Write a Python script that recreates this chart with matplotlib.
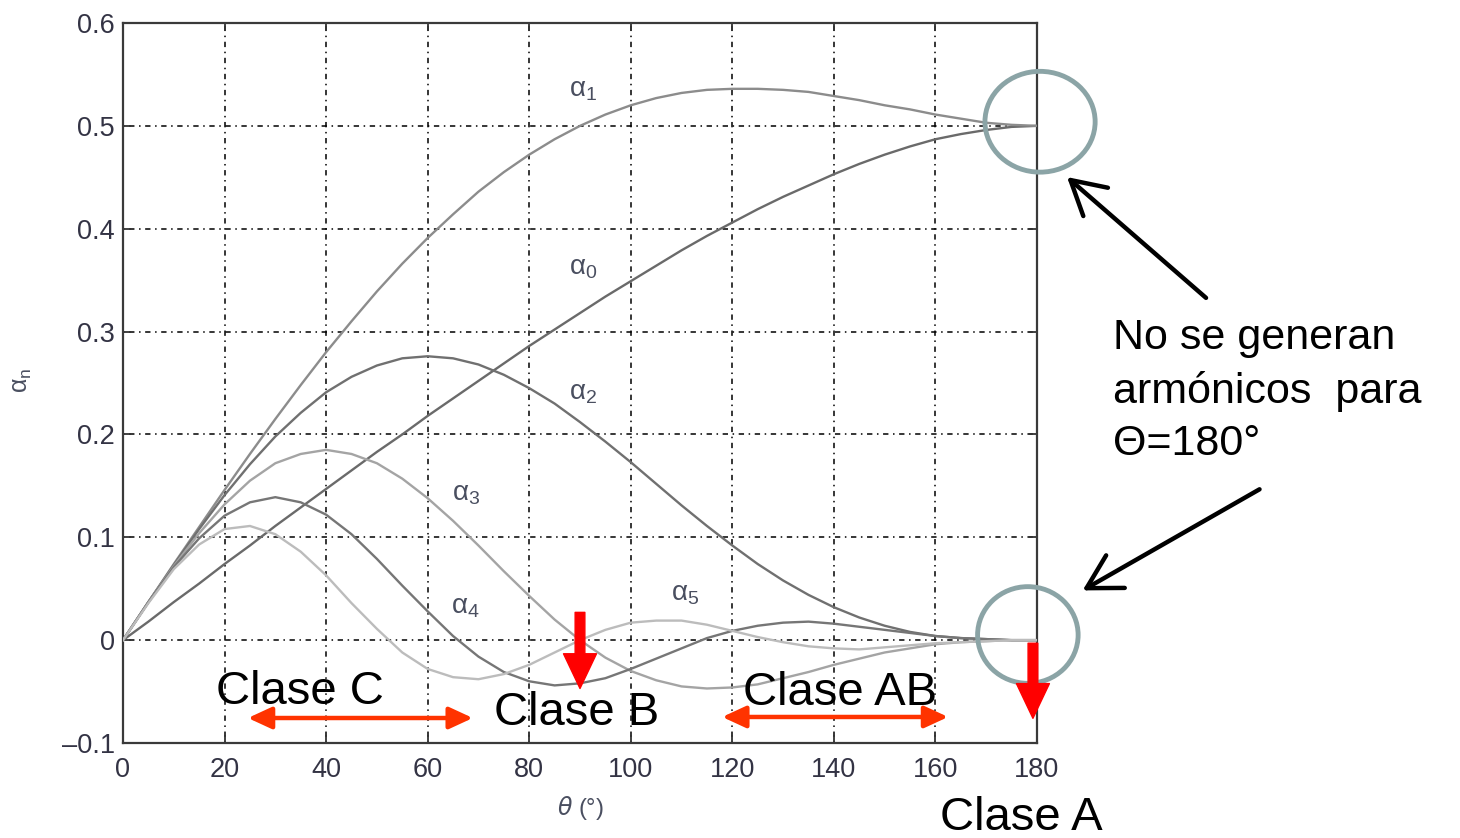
import numpy as np
import matplotlib
matplotlib.use("Agg")
import matplotlib.pyplot as plt
from matplotlib.patches import Ellipse

# Normalised harmonic amplitudes vs. half conduction angle (every 5 deg)
theta = list(range(0, 181, 5))
alpha0 = [0.000, 0.018, 0.037, 0.055, 0.074, 0.092, 0.111, 0.129, 0.147, 0.165, 0.183, 0.200,
          0.218, 0.235, 0.252, 0.269, 0.286, 0.302, 0.318, 0.334, 0.349, 0.364, 0.379, 0.393,
          0.406, 0.419, 0.431, 0.442, 0.453, 0.463, 0.472, 0.480, 0.487, 0.492, 0.496, 0.499, 0.500]
alpha1 = [0.000, 0.037, 0.074, 0.110, 0.146, 0.181, 0.215, 0.248, 0.280, 0.310, 0.339, 0.366,
          0.391, 0.414, 0.436, 0.455, 0.472, 0.487, 0.500, 0.511, 0.520, 0.527, 0.532, 0.535,
          0.536, 0.536, 0.535, 0.533, 0.529, 0.525, 0.520, 0.516, 0.511, 0.507, 0.503, 0.501, 0.500]
alpha2 = [0.000, 0.037, 0.073, 0.108, 0.141, 0.171, 0.198, 0.221, 0.241, 0.256, 0.267, 0.274,
          0.276, 0.274, 0.268, 0.258, 0.245, 0.230, 0.212, 0.193, 0.173, 0.152, 0.131, 0.111,
          0.092, 0.074, 0.058, 0.044, 0.032, 0.022, 0.014, 0.008, 0.004, 0.002, 0.001, 0.000, 0.000]
alpha3 = [0.000, 0.037, 0.072, 0.104, 0.132, 0.155, 0.172, 0.181, 0.185, 0.181, 0.172, 0.157,
          0.138, 0.116, 0.092, 0.067, 0.043, 0.020, 0.000, -0.017, -0.030, -0.039, -0.045, -0.047,
          -0.046, -0.043, -0.037, -0.031, -0.024, -0.018, -0.012, -0.008, -0.004, -0.002, -0.001, 0.000, 0.000]
alpha4 = [0.000, 0.037, 0.071, 0.099, 0.121, 0.134, 0.139, 0.134, 0.122, 0.103, 0.079, 0.053,
          0.028, 0.004, -0.016, -0.031, -0.040, -0.044, -0.042, -0.037, -0.028, -0.018, -0.008, 0.002,
          0.009, 0.014, 0.017, 0.018, 0.016, 0.013, 0.010, 0.007, 0.004, 0.002, 0.001, 0.000, 0.000]
alpha5 = [0.000, 0.036, 0.069, 0.093, 0.108, 0.111, 0.103, 0.086, 0.063, 0.036, 0.011, -0.012,
          -0.028, -0.036, -0.038, -0.033, -0.024, -0.012, 0.000, 0.010, 0.017, 0.019, 0.019, 0.015,
          0.009, 0.003, -0.002, -0.006, -0.008, -0.009, -0.007, -0.005, -0.003, -0.002, -0.001, 0.000, 0.000]

series = [alpha0, alpha1, alpha2, alpha3, alpha4, alpha5]
names = [r"$\mathregular{\alpha_%d}$" % i for i in range(6)]
colors = ["#6a6a6a", "#8c8c8c", "#707070", "#a4a4a4", "#767676", "#bcbcbc"]
label_pos = [(90.6, 0.362), (90.6, 0.535), (90.6, 0.240), (67.5, 0.142), (67.5, 0.032), (110.7, 0.045)]

plt.rcParams["font.family"] = ["Liberation Sans", "DejaVu Sans"]
plt.rcParams["mathtext.fontset"] = "dejavusans"

fig = plt.figure(figsize=(14.6, 8.38), dpi=100)
ax = fig.add_axes([123 / 1460, 1 - 743 / 838, (1037 - 123) / 1460, (743 - 23) / 838])

for ys, c in zip(series, colors):
    ax.plot(theta, ys, color=c, lw=1.7, zorder=3)
for name, (x, y) in zip(names, label_pos):
    ax.text(x, y, name, fontsize=20, color="#4a4f60", ha="center", va="center", zorder=4)

ax.set_xlim(0, 180)
ax.set_ylim(-0.1, 0.6)
ax.set_xticks(range(0, 181, 20))
ax.set_yticks([-0.1, 0, 0.1, 0.2, 0.3, 0.4, 0.5, 0.6])
ax.set_yticklabels(["\u20130.1", "0", "0.1", "0.2", "0.3", "0.4", "0.5", "0.6"])
ax.tick_params(direction="in", length=6, width=1.3, top=True, right=True,
               labelsize=19.5, labelcolor="#333344", color="#333333")
ax.tick_params(axis="x", pad=10)
ax.tick_params(axis="y", pad=6)
ax.grid(True, color="black", lw=1.1, linestyle=(0, (1, 3, 3.5, 3)))
for sp in ax.spines.values():
    sp.set_color("#3a3a3a")
    sp.set_linewidth(1.6)

fig.text(22 / 1460, 1 - 380 / 838, r"$\mathregular{\alpha_n}$", rotation=90, fontsize=18,
         color="#4a4f60", ha="center", va="center")
fig.text(580 / 1460, 1 - 808 / 838, r"$\theta$ (°)", fontsize=17,
         color="#4a4f60", ha="center", va="center")

# circles around theta = 180
ax.add_patch(Ellipse((180.6, 0.504), 21.7, 0.098, fill=False, ec="#8ba4a6", lw=3.5,
                     clip_on=False, zorder=5))
ax.add_patch(Ellipse((178.2, 0.005), 19.8, 0.094, fill=False, ec="#8ba4a6", lw=3.5,
                     clip_on=False, zorder=5))

fig.text(1113 / 1460, 1 - 318 / 838, "No se generan\narmónicos  para\nΘ=180°",
         fontsize=31, ha="left", va="top", linespacing=1.4)
ax.annotate("", xy=(185.5, 0.452), xytext=(213.7, 0.331), annotation_clip=False,
            arrowprops=dict(arrowstyle="->,head_width=0.45,head_length=0.8", lw=3.2,
                            color="black", mutation_scale=30))
ax.annotate("", xy=(188.5, 0.047), xytext=(224.3, 0.148), annotation_clip=False,
            arrowprops=dict(arrowstyle="->,head_width=0.45,head_length=0.8", lw=3.2,
                            color="black", mutation_scale=30))

# class regions
ax.annotate("", xy=(24.6, -0.0757), xytext=(68.9, -0.0757), annotation_clip=False,
            arrowprops=dict(arrowstyle="<|-|>,head_width=0.3,head_length=0.65", lw=3.2,
                            color="#ff3300", mutation_scale=22, shrinkA=0, shrinkB=0))
ax.annotate("", xy=(118.0, -0.0747), xytext=(162.5, -0.0747), annotation_clip=False,
            arrowprops=dict(arrowstyle="<|-|>,head_width=0.3,head_length=0.65", lw=3.2,
                            color="#ff3300", mutation_scale=22, shrinkA=0, shrinkB=0))
ax.annotate("", xy=(90.0, -0.047), xytext=(90.0, 0.027), annotation_clip=False,
            arrowprops=dict(arrowstyle="simple,head_width=0.95,head_length=1.0,tail_width=0.28",
                            color="#ff0000", mutation_scale=25, shrinkA=0, shrinkB=0), zorder=6)
ax.annotate("", xy=(179.2, -0.076), xytext=(179.2, -0.003), annotation_clip=False,
            arrowprops=dict(arrowstyle="simple,head_width=0.95,head_length=1.0,tail_width=0.28",
                            color="#ff0000", mutation_scale=25, shrinkA=0, shrinkB=0), zorder=6)

for txt, x, y in [("Clase C", 34.9, -0.050), ("Clase B", 89.4, -0.071),
                  ("Clase AB", 141.2, -0.051), ("Clase A", 177.0, -0.173)]:
    ax.text(x, y, txt, fontsize=34, ha="center", va="center", clip_on=False, zorder=7)

fig.savefig("out.png", dpi=100)
